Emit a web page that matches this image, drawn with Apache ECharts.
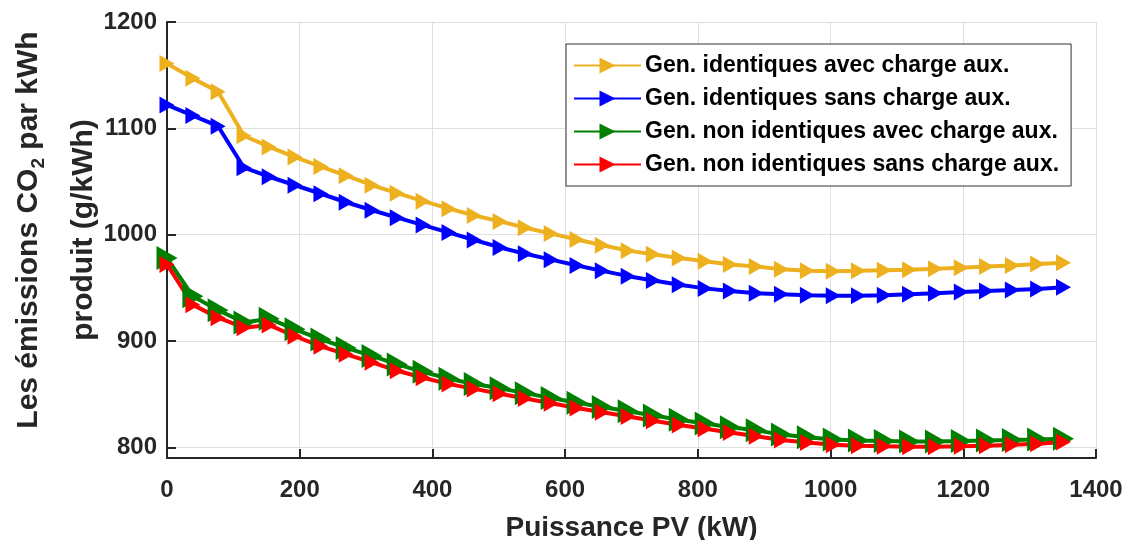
<!DOCTYPE html>
<html>
<head>
<meta charset="utf-8">
<script src="https://cdn.jsdelivr.net/npm/echarts@6/dist/echarts.min.js"></script>
<style>
  html, body { margin: 0; padding: 0; background: #fff; }
  #chart { width: 1129px; height: 540px; }
</style>
</head>
<body>
<div id="chart"></div>
<script>
// puissance PV (kW)
const pvPower = [0, 39, 77, 116, 154, 193, 232, 270, 309, 347, 386, 425, 463, 502, 540, 579, 618, 656,
  695, 733, 772, 811, 849, 888, 926, 965, 1004, 1042, 1081, 1119, 1158, 1197, 1235, 1274, 1312, 1351];

// émissions CO2 (g/kWh)
const identAvec = [1161, 1147, 1134.5, 1093, 1082.5, 1073, 1064, 1055.5, 1046.5, 1039, 1031.5, 1024.5,
  1018, 1012.5, 1006.5, 1001, 995.5, 990, 985, 981.5, 978, 975, 972, 970, 967.5, 966,
  965.5, 966, 966.5, 967, 968, 969, 970, 971, 972.5, 973.5];
const identSans = [1122, 1112, 1102, 1063, 1054.5, 1046.5, 1038.5, 1030.5, 1023, 1016, 1009, 1002,
  995, 988, 982, 976.5, 971, 966, 961, 957, 953, 949.5, 947, 945, 944, 943,
  942.5, 942.5, 943, 944, 945, 946, 947, 948, 949, 950.5];
const nonIdentAvec = [978, 942, 929, 917.5, 921, 911, 901.5, 893.5, 886, 878, 871, 864.5,
  859.5, 855.5, 851, 846.5, 842, 838, 834, 830, 826, 822.5, 819, 816, 812, 809.5,
  807.5, 806.5, 806, 805.5, 805.5, 806, 806.5, 807, 807.5, 808];
const nonIdentSans = [972, 934, 922, 912.5, 915, 904.5, 895, 887.5, 880, 872, 865.5, 859.5,
  855, 850.5, 846, 841.5, 837, 833, 829, 825, 821, 817.5, 814, 810.5, 807, 804.5,
  802.5, 801.5, 801, 800.5, 800.5, 801, 801.5, 802.5, 803.5, 805];

const seriesNames = [
  'Gen. identiques avec charge aux.',
  'Gen. identiques sans charge aux.',
  'Gen. non identiques avec charge aux.',
  'Gen. non identiques sans charge aux.'
];
const seriesColors = ['#EDB120', '#0000FF', '#008000', '#FF0000'];
const seriesValues = [identAvec, identSans, nonIdentAvec, nonIdentSans];

const FONT = "'Liberation Sans', Arial, sans-serif";
const AXIS_COLOR = '#262626';
const ARROW = 'path://M0,0L1,0.5L0,1Z';

function pairs(values) {
  return pvPower.map((x, i) => [x, values[i]]);
}

const chart = echarts.init(document.getElementById('chart'), null, {renderer: 'canvas'});

const option = {
  animation: false,
  backgroundColor: '#fff',
  grid: {
    left: 167,
    right: 33,
    top: 22,
    bottom: 82,
    outerBoundsMode: 'none'
  },
  legend: {
    orient: 'vertical',
    left: 566,
    top: 44,
    padding: [10, 12, 10, 7],
    itemWidth: 67,
    itemHeight: 20,
    itemGap: 10,
    backgroundColor: '#fff',
    borderColor: '#333',
    borderWidth: 1,
    borderRadius: 0,
    textStyle: {
      fontFamily: FONT,
      fontWeight: 'bold',
      fontSize: 23,
      color: '#000',
      padding: [0, 0, 0, -1]
    },
    data: seriesNames
  },
  xAxis: {
    type: 'value',
    min: 0,
    max: 1400,
    interval: 200,
    name: 'Puissance PV (kW)',
    nameLocation: 'middle',
    nameGap: 56,
    nameTextStyle: {
      fontFamily: FONT,
      fontWeight: 'bold',
      fontSize: 28,
      color: AXIS_COLOR
    },
    axisLine: {onZero: false, lineStyle: {color: AXIS_COLOR, width: 2}},
    axisTick: {inside: true, length: 9, lineStyle: {color: AXIS_COLOR, width: 2}},
    axisLabel: {
      margin: 20,
      fontFamily: FONT,
      fontWeight: 'bold',
      fontSize: 24,
      color: AXIS_COLOR,
      formatter: function (v) {
        return String(v);
      }
    },
    splitLine: {show: true, lineStyle: {color: '#dfdfdf', width: 1}}
  },
  yAxis: {
    type: 'value',
    min: 790,
    max: 1200,
    splitNumber: 4,
    name: '{a|Les émissions CO}{s|2}{a| par kWh}\n{a|produit (g/kWh)}',
    nameLocation: 'middle',
    nameGap: 56,
    nameMoveOverlap: false,
    nameTextStyle: {
      color: AXIS_COLOR,
      padding: [0, 0, 0, 20],
      rich: {
        a: {fontFamily: FONT, fontWeight: 'bold', fontSize: 30, lineHeight: 55, color: AXIS_COLOR},
        s: {fontFamily: FONT, fontWeight: 'bold', fontSize: 19, lineHeight: 19, padding: [20, 0, 0, 0], color: AXIS_COLOR}
      }
    },
    axisLine: {show: true, onZero: false, lineStyle: {color: AXIS_COLOR, width: 2}},
    axisTick: {show: true, inside: true, length: 9, lineStyle: {color: AXIS_COLOR, width: 2}},
    axisLabel: {
      margin: 10,
      fontFamily: FONT,
      fontWeight: 'bold',
      fontSize: 24,
      color: AXIS_COLOR,
      formatter: function (v) {
        return v % 100 === 0 ? String(v) : '';
      }
    },
    splitLine: {show: true, lineStyle: {color: '#dfdfdf', width: 1}}
  },
  series: seriesNames.map((name, k) => ({
    name: name,
    type: 'line',
    data: pairs(seriesValues[k]),
    symbol: ARROW,
    symbolSize: k === 2 ? [21, 24] : [15, 17],
    showAllSymbol: true,
    clip: false,
    lineStyle: {color: seriesColors[k], width: 4},
    itemStyle: {color: seriesColors[k]},
    emphasis: {disabled: true}
  }))
};

chart.setOption(option);
</script>
</body>
</html>
